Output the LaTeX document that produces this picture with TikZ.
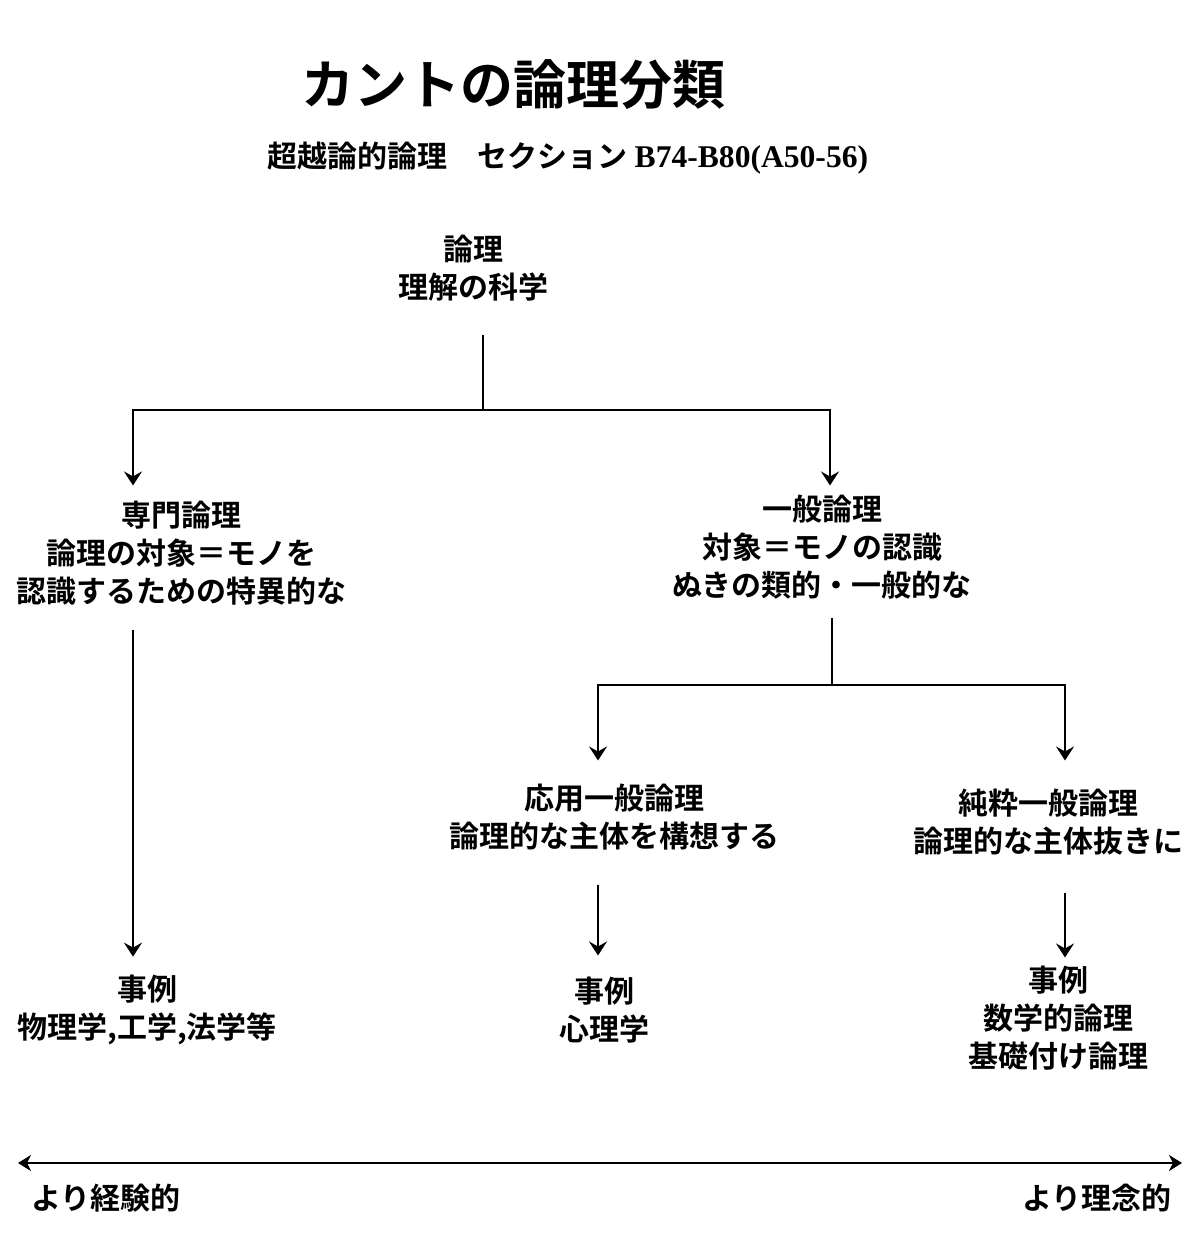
\documentclass[tikz,border=0pt]{standalone}
\usepackage{fontspec}
\setmainfont{Liberation Serif}
\newfontfamily\cjk{Noto Sans CJK JP Bold}
\usetikzlibrary{arrows.meta,positioning}
\tikzset{
  % 本文ラベル
  lbl/.style={font=\cjk\fontsize{15}{19}\selectfont, align=center, inner sep=0pt},
  % タイトル
  ttl/.style={font=\cjk\fontsize{26.5}{30}\selectfont, inner sep=0pt},
  % 線と矢印
  link/.style={line width=1.2pt},
  arr/.style={-{Stealth[length=7pt, width=9pt, inset=2.5pt]}, line width=1.2pt},
  axis/.style={{Stealth[length=6.5pt, width=8pt, inset=2pt]}-{Stealth[length=6.5pt, width=8pt, inset=2pt]}, line width=1.2pt},
}

\begin{document}
\begin{tikzpicture}[x=0.5pt, y=-0.5pt]
  \useasboundingbox (0,0) rectangle (1200,1243);

  % 見出し
  \node[ttl] (title) at (513,85) {カントの論理分類};
  \node[lbl] (subtitle) at (568,158) {超越論的論理　セクション {\rmfamily\bfseries\fontsize{15.8}{19}\selectfont B74-B80(A50-56)}};

  % 木の節点
  \node[lbl] (logic) at (473,268) {論理\\理解の科学};
  \node[lbl] (special) at (182,553) {専門論理\\論理の対象＝モノを\\認識するための特異的な};
  \node[lbl] (general) at (822,547) {一般論理\\対象＝モノの認識\\ぬきの類的・一般的な};
  \node[lbl] (applied) at (614,817) {応用一般論理\\論理的な主体を構想する};
  \node[lbl] (pure) at (1048,822) {純粋一般論理\\論理的な主体抜きに};
  \node[lbl] (example1) at (147,1010) {事例\\物理学,工学,法学等};
  \node[lbl] (example2) at (604,1010) {事例\\心理学};
  \node[lbl] (example3) at (1058,1018) {事例\\数学的論理\\基礎付け論理};

  % 分岐点
  \coordinate (topfork) at (483,410);
  \coordinate (leftdrop) at (133,410);
  \coordinate (rightdrop) at (830,410);
  \coordinate (subfork) at (832,685);
  \coordinate (applieddrop) at (598,685);
  \coordinate (puredrop) at (1065,685);

  % 論理 -> 専門論理 / 一般論理
  \draw[link, shorten <=16.5pt] (topfork |- logic.south) -- (topfork);
  \draw[arr, shorten >=7.5pt] (topfork) -- (leftdrop) -- (leftdrop |- special.north);
  \draw[arr, shorten >=4.5pt] (topfork) -- (rightdrop) -- (rightdrop |- general.north);

  % 一般論理 -> 応用 / 純粋
  \draw[link, shorten <=9pt] (subfork |- general.south) -- (subfork);
  \draw[arr, shorten >=11.5pt] (subfork) -- (applieddrop) -- (applieddrop |- applied.north);
  \draw[arr, shorten >=14pt] (subfork) -- (puredrop) -- (puredrop |- pure.north);

  % 事例へ
  \draw[arr, shorten <=12pt, shorten >=9pt] (leftdrop |- special.south) -- (leftdrop |- example1.north);
  \draw[arr, shorten <=17pt, shorten >=10.5pt] (applieddrop |- applied.south) -- (applieddrop |- example2.north);
  \draw[arr, shorten <=18.5pt, shorten >=4pt] (puredrop |- pure.south) -- (puredrop |- example3.north);

  % 下の軸
  \coordinate (axisleft) at (18,1163);
  \coordinate (axisright) at (1182,1163);
  \draw[axis] (axisleft) -- (axisright);
  \node[lbl] (empirical) at (106,1198) {より経験的};
  \node[lbl] (ideal) at (1097,1198) {より理念的};
\end{tikzpicture}
\end{document}
